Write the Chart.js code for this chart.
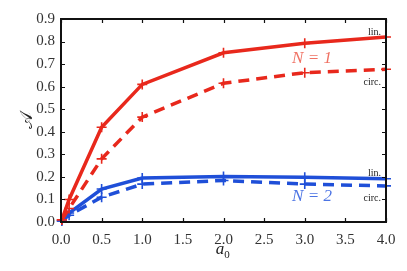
<!DOCTYPE html>
<html>
<head>
<meta charset="utf-8">
<script src="https://cdn.jsdelivr.net/npm/chart.js@4"></script>
<style>
html,body{margin:0;padding:0;background:#fff;}
#wrap{width:407px;height:271px;position:relative;}
</style>
</head>
<body>
<div id="wrap"><canvas id="c" width="407" height="271"></canvas></div>
<script>
// ---- data ----
const xLin = [0.01, 0.1, 0.5, 1.0, 2.0, 3.0, 4.0];
const xCirc = [0.01, 0.1, 0.5, 1.0, 2.0, 3.0, 4.0];
const n1Lin = [0.01, 0.10, 0.42, 0.61, 0.75, 0.792, 0.82];
const n1Circ = [0.01, 0.06, 0.28, 0.465, 0.615, 0.662, 0.677];
const n2Lin = [0.005, 0.04, 0.146, 0.195, 0.202, 0.198, 0.192];
const n2Circ = [0.005, 0.03, 0.11, 0.168, 0.184, 0.168, 0.16];
const xTicks = [0, 0.5, 1.0, 1.5, 2.0, 2.5, 3.0, 3.5, 4.0];
const yTicks = [0, 0.1, 0.2, 0.3, 0.4, 0.5, 0.6, 0.7, 0.8, 0.9];
const labelN1 = "N = 1";
const labelN2 = "N = 2";
const labelLin = "lin.";
const labelCirc = "circ.";
const xTitle = "a";
const xTitleSub = "0";
const yTitle = "\u{1D49C}";

const RED = '#e8281c';
const BLUE = '#1f4fd8';

function pts(xs, ys){ return xs.map((x,i)=>({x:x, y:ys[i]})); }

const frame = {
  id:'frame',
  afterDatasetsDraw(chart){
    const {ctx, chartArea:a, scales:{x,y}} = chart;
    ctx.save();
    ctx.strokeStyle = '#111';
    ctx.lineWidth = 1.2;
    const L = 4;
    ctx.beginPath();
    xTicks.forEach(v=>{
      const px = Math.round(x.getPixelForValue(v))+0.5;
      ctx.moveTo(px,a.bottom); ctx.lineTo(px,a.bottom-L);
      ctx.moveTo(px,a.top); ctx.lineTo(px,a.top+L);
    });
    yTicks.forEach(v=>{
      const py = Math.round(y.getPixelForValue(v))+0.5;
      ctx.moveTo(a.left,py); ctx.lineTo(a.left+L,py);
      ctx.moveTo(a.right,py); ctx.lineTo(a.right-L,py);
    });
    ctx.stroke();
    ctx.lineWidth = 2;
    ctx.strokeRect(a.left, a.top, a.right-a.left, a.bottom-a.top);

    // annotations
    ctx.textBaseline = 'middle';
    ctx.font = '10px "Liberation Serif", serif';
    ctx.fillStyle = '#222';
    ctx.textAlign = 'right';
    ctx.fillText(labelLin, a.right-5, 32);
    ctx.fillText(labelCirc, a.right-5, 82);
    ctx.fillText(labelLin, a.right-5, 173);
    ctx.fillText(labelCirc, a.right-5, 198);

    ctx.textAlign = 'center';
    ctx.font = 'italic 17px "Liberation Serif", serif';
    ctx.fillStyle = '#f07264';
    ctx.fillText(labelN1, 312, 59);
    ctx.fillStyle = '#4c74e4';
    ctx.fillText(labelN2, 312, 197);

    // axis titles
    ctx.fillStyle = '#222';
    ctx.font = 'italic 17px "Liberation Serif", serif';
    ctx.textAlign = 'center';
    ctx.fillText(xTitle, 220, 250);
    ctx.font = '11px "Liberation Serif", serif';
    ctx.fillText(xTitleSub, 227, 255);

    ctx.save();
    ctx.translate(27, 120);
    ctx.rotate(-Math.PI/2);
    ctx.font = '18px "DejaVu Serif", "DejaVu Sans", serif';
    ctx.fillText(yTitle, 0, 0);
    ctx.restore();
    ctx.restore();
  }
};

const common = {pointStyle:'cross', pointRadius:5, pointBorderWidth:1.6, borderWidth:3.5, fill:false, tension:0, clip:false};

new Chart(document.getElementById('c'), {
  type:'line',
  data:{
    datasets:[
      Object.assign({data:pts(xLin,n1Lin), borderColor:RED, pointBorderColor:RED, pointBackgroundColor:RED}, common),
      Object.assign({data:pts(xCirc,n1Circ), borderColor:RED, pointBorderColor:RED, pointBackgroundColor:RED, borderDash:[11,7]}, common),
      Object.assign({data:pts(xLin,n2Lin), borderColor:BLUE, pointBorderColor:BLUE, pointBackgroundColor:BLUE}, common),
      Object.assign({data:pts(xCirc,n2Circ), borderColor:BLUE, pointBorderColor:BLUE, pointBackgroundColor:BLUE, borderDash:[11,7]}, common)
    ]
  },
  options:{
    responsive:false,
    animation:false,
    devicePixelRatio:1,
    layout:{padding:{top:19, right:21, left:0, bottom:0}},
    plugins:{legend:{display:false}, tooltip:{enabled:false}},
    scales:{
      x:{
        type:'linear', min:0, max:4,
        afterFit(s){ s.height = 49; },
        afterBuildTicks(s){ s.ticks = xTicks.map(v=>({value:v})); },
        grid:{display:false, drawTicks:false},
        border:{display:false},
        ticks:{padding:9, color:'#333', font:{family:'"Liberation Serif", serif', size:15}, maxRotation:0, callback:v=>v.toFixed(1)}
      },
      y:{
        type:'linear', min:0, max:0.9,
        afterFit(s){ s.width = 61; },
        afterBuildTicks(s){ s.ticks = yTicks.map(v=>({value:v})); },
        grid:{display:false, drawTicks:false},
        border:{display:false},
        ticks:{padding:6, color:'#333', font:{family:'"Liberation Serif", serif', size:15}, callback:v=>v.toFixed(1)}
      }
    }
  },
  plugins:[frame]
});
</script>
</body>
</html>
